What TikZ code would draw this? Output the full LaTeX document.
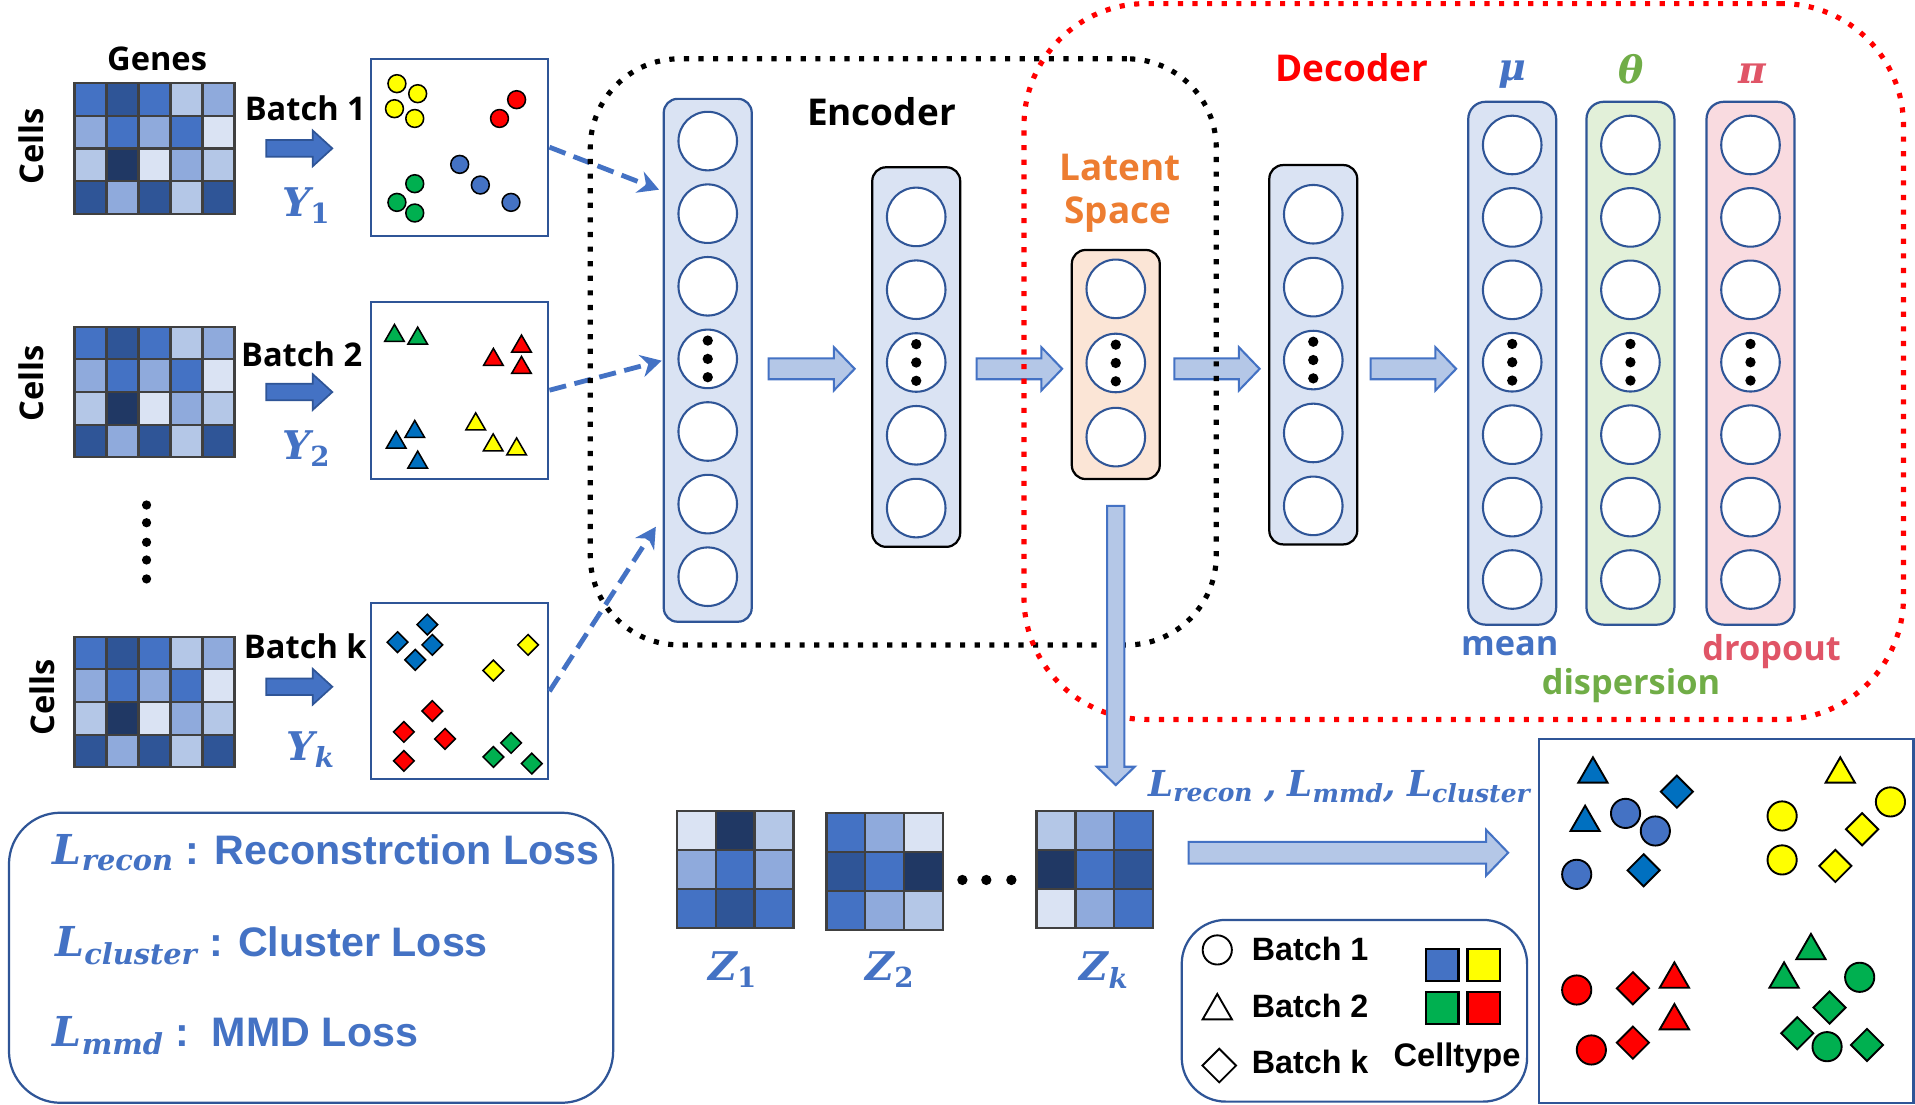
\RequirePackage{fix-cm}
\documentclass[tikz,border=0pt]{standalone}
\usepackage{fontspec}
\usepackage{amsmath}
\usepackage{xcolor}
\usetikzlibrary{arrows.meta,positioning,calc,shapes.geometric}
\newfontfamily\labelsans{Open Sans}
\newfontfamily\arialsans{Liberation Sans}
\newfontfamily\greekserif{DejaVu Serif}
\newcommand{\bfit}[1]{\text{\greekserif\bfseries\itshape #1}}
\newcommand{\bfup}[1]{\text{\greekserif\bfseries #1}}
\definecolor{Shade1}{HTML}{DAE3F3}
\definecolor{Shade2}{HTML}{B4C7E7}
\definecolor{Shade3}{HTML}{8FAADC}
\definecolor{Shade4}{HTML}{4472C4}
\definecolor{Shade5}{HTML}{2F5597}
\definecolor{Shade6}{HTML}{203864}
\definecolor{UBlue}{HTML}{2F5597}
\definecolor{TBlue}{HTML}{4472C4}
\definecolor{GridGray}{HTML}{404040}
\definecolor{LatentFill}{HTML}{FBE5D6}
\definecolor{LatentText}{HTML}{ED7D31}
\definecolor{ThetaFill}{HTML}{E2F0D9}
\definecolor{ThetaText}{HTML}{70AD47}
\definecolor{PiFill}{HTML}{F9DBE0}
\definecolor{PiText}{HTML}{E05567}
\definecolor{CtBlue}{HTML}{0070C0}
\definecolor{CtYellow}{HTML}{FFFF00}
\definecolor{CtRed}{HTML}{FF0000}
\definecolor{CtGreen}{HTML}{00B050}
\tikzset{
 lbl/.style={font=\labelsans\bfseries\fontsize{19}{22}\selectfont, inner sep=0},
 headtxt/.style={font=\labelsans\bfseries\fontsize{21.5}{25}\selectfont, inner sep=0},
 subtxt/.style={font=\labelsans\bfseries\fontsize{20}{24}\selectfont, inner sep=0},
 mathlbl/.style={font=\fontsize{23}{28}\selectfont, text=TBlue, inner sep=0},
 greeklbl/.style={font=\greekserif\bfseries\itshape\fontsize{22}{26}\selectfont, inner sep=0},
 losstxt/.style={font=\arialsans\bfseries\fontsize{24}{28}\selectfont, text=TBlue, inner sep=0},
 legtxt/.style={font=\arialsans\bfseries\fontsize{18.8}{22}\selectfont, inner sep=0},
 heatbox/.style={rectangle, inner sep=0, outer sep=0},
 heatcell/.style={draw=GridGray, line width=1.3pt},
 scatterbox/.style={rectangle, draw=UBlue, line width=1.3pt, minimum width=103.1pt, minimum height=103.1pt, inner sep=0},
 neuron/.style={circle, draw=UBlue, fill=white, line width=1.2pt, minimum size=34.1pt, inner sep=0},
 layerbox/.style={rectangle, rounded corners=8pt, line width=1.3pt, minimum width=51.2pt, inner sep=0},
 enccol/.style={layerbox, draw=UBlue, fill=Shade1},
 hidcol/.style={layerbox, draw=black, fill=Shade1},
 latcol/.style={layerbox, draw=black, fill=LatentFill},
 mucol/.style={layerbox, rounded corners=10pt, draw=UBlue, fill=Shade1},
 thetacol/.style={layerbox, rounded corners=10pt, draw=UBlue, fill=ThetaFill},
 picol/.style={layerbox, rounded corners=10pt, draw=UBlue, fill=PiFill},
 blkarrow/.style={fill=Shade2, draw=TBlue, line width=1.2pt},
 batcharrow/.style={fill=Shade4, draw=UBlue, line width=1pt},
 inarrow/.style={draw=TBlue, line width=2.8pt, dash pattern=on 10pt off 5pt, -{Stealth[length=12pt,width=13pt]}},
 dotbox/.style={rectangle, line width=3pt, dash pattern=on 3pt off 5.5pt, inner sep=0},
 cdot/.style={circle, draw=black, line width=0.9pt, minimum size=10.4pt, inner sep=0},
 ctri/.style={regular polygon, regular polygon sides=3, draw=black, line width=0.9pt, minimum size=13.2pt, inner sep=0, yshift=-1.6pt},
 cdia/.style={diamond, draw=black, line width=0.9pt, minimum size=12.4pt, inner sep=0},
 bigdot/.style={circle, draw=black, line width=1.1pt, minimum size=17pt, inner sep=0},
 bigtri/.style={regular polygon, regular polygon sides=3, draw=black, line width=1.1pt, minimum size=19.7pt, inner sep=0, yshift=-2.5pt},
 bigdia/.style={diamond, draw=black, line width=1.1pt, minimum size=19.2pt, inner sep=0},
 swatch/.style={rectangle, draw=black, line width=1.3pt, minimum size=18.8pt, inner sep=0}
}
\newcommand{\heatgrid}[5]{%
  \foreach \heatcol [count=\ci from 0] in {#5}{%
    \pgfmathtruncatemacro{\cc}{mod(\ci,#2)}%
    \pgfmathtruncatemacro{\rr}{floor(\ci/#2)}%
    \draw[heatcell, fill=\heatcol] ($(#1.north west)+(\cc*#3,\rr*#4)$) rectangle +(#3,#4);}}
\newcommand{\nnlayer}[8]{%
  \node[#2, minimum height={(#5-#4)*0.7113pt}] (#1) at (#3,{(#4+#5)/2}) {};
  \foreach \k in {1,...,#8}
    \node[neuron] (#1n\k) at (#3,{#6+#7*(\k-1)}) {};
  \pgfmathtruncatemacro{\midn}{(#8+1)/2}
  \foreach \d in {-15,0,15}
    \fill ($(#1n\midn)+(0,\d)$) circle (3pt);}
\newcommand{\blockarrow}[6]{%
  \draw[#1] ($(#2)+(0,-#4)$) -- ($(#3)+(-#6,-#4)$) -- ($(#3)+(-#6,-#5)$) -- (#3)
    -- ($(#3)+(-#6,#5)$) -- ($(#3)+(-#6,#4)$) -- ($(#2)+(0,#4)$) -- cycle;}
\newcommand{\downblock}[6]{%
  \draw[#1] ($(#2)+(-#4,0)$) -- ($(#3)+(-#4,-#6)$) -- ($(#3)+(-#5,-#6)$) -- (#3)
    -- ($(#3)+(#5,-#6)$) -- ($(#3)+(#4,-#6)$) -- ($(#2)+(#4,0)$) -- cycle;}

\begin{document}
\begin{tikzpicture}[x=0.025cm, y=-0.025cm]
\useasboundingbox (0,0) rectangle (1568,904);
\fill[white] (0,0) rectangle (1568,904);

% input batches
\node[lbl, anchor=base] (genes) at (128.6,57.9) {Genes};
\foreach \m/\y in {1/121.5, 2/321, 3/574.8}{
  \node[heatbox, minimum width=93.2pt, minimum height=76.1pt] (mat\m) at (126.5,\y) {};
  \heatgrid{mat\m}{5}{26.2}{26.75}{Shade4,Shade5,Shade4,Shade2,Shade3, Shade3,Shade4,Shade3,Shade4,Shade1, Shade2,Shade6,Shade1,Shade3,Shade2, Shade5,Shade3,Shade5,Shade2,Shade5}
}
\node[lbl, rotate=90] (cells1) at (26,120) {Cells};
\node[lbl, rotate=90] (cells2) at (26,314) {Cells};
\node[lbl, rotate=90] (cells3) at (35,571) {Cells};
\foreach \y in {413.5,428,444,458.5,474}
  \fill (120,\y) circle (2.7pt);

\node[lbl, anchor=base] (bt1) at (250,98.3) {Batch 1};
\node[lbl, anchor=base] (bt2) at (247,299.7) {Batch 2};
\node[lbl, anchor=base] (btk) at (250,539) {Batch k};
\node[mathlbl, anchor=base] (y1) at (250.8,177.4) {$\bfit{Y}_{\bfup{1}}$};
\node[mathlbl, anchor=base] (y2) at (250.8,376.6) {$\bfit{Y}_{\bfup{2}}$};
\node[mathlbl, anchor=base] (yk) at (254.4,622.3) {$\bfit{Y}_{\bfit{k}}$};

\node[scatterbox] (box1) at (376.5,120.5) {};
\node[scatterbox] (box2) at (376.5,319.5) {};
\node[scatterbox, minimum height=102.4pt] (box3) at (376.5,566) {};

\coordinate (s1) at ($(mat1.east)+(26,0)$);
\coordinate (t1) at ($(box1.west |- s1)+(-31,0)$);
\coordinate (s2) at ($(mat2.east)+(26,0)$);
\coordinate (t2) at ($(box2.west |- s2)+(-31,0)$);
\coordinate (s3) at ($(mat3.east)+(26,-12.5)$);
\coordinate (t3) at ($(box3.west |- s3)+(-31,0)$);
\foreach \s/\e in {s1/t1, s2/t2, s3/t3}
  \blockarrow{batcharrow}{\s}{\e}{6.8}{14.6}{16};

% batch 1: circles
\foreach \x/\y [count=\n] in {325/68.5,342/76.7,323/89,339.6/97}
  \node[cdot, fill=CtYellow] (b1y\n) at (\x,\y) {};
\foreach \x/\y [count=\n] in {423/81.6,409/97}
  \node[cdot, fill=CtRed] (b1r\n) at (\x,\y) {};
\foreach \x/\y [count=\n] in {376.4/134.6,393.3/151.5,418.4/165.7}
  \node[cdot, fill=TBlue] (b1b\n) at (\x,\y) {};
\foreach \x/\y [count=\n] in {339.6/150.4,325/165.7,339.6/174.4}
  \node[cdot, fill=CtGreen] (b1g\n) at (\x,\y) {};
% batch 2: triangles
\foreach \x/\y [count=\n] in {323/272.7,342/274.9}
  \node[ctri, fill=CtGreen] (b2g\n) at (\x,\y) {};
\foreach \x/\y [count=\n] in {404/292.3,427/281.4,427/298.9}
  \node[ctri, fill=CtRed] (b2r\n) at (\x,\y) {};
\foreach \x/\y [count=\n] in {324.4/360,339.6/351.3,342/376.4}
  \node[ctri, fill=CtBlue] (b2b\n) at (\x,\y) {};
\foreach \x/\y [count=\n] in {389.5/345.1,403.8/362.3,423/365.6}
  \node[ctri, fill=CtYellow] (b2y\n) at (\x,\y) {};
% batch k: diamonds
\foreach \x/\y [count=\n] in {349.9/511.4,325.5/525.8,354/528,340/540.3}
  \node[cdia, fill=CtBlue] (bkb\n) at (\x,\y) {};
\foreach \x/\y [count=\n] in {432.4/528,404/549}
  \node[cdia, fill=CtYellow] (bky\n) at (\x,\y) {};
\foreach \x/\y [count=\n] in {354/582.2,330.7/599.3,364.4/605,330.7/623}
  \node[cdia, fill=CtRed] (bkr\n) at (\x,\y) {};
\foreach \x/\y [count=\n] in {418.5/608.3,404/619.8,435.4/625.2}
  \node[cdia, fill=CtGreen] (bkg\n) at (\x,\y) {};

% network
\nnlayer{enc1}{enccol}{579.5}{81}{509}{115.5}{59.45}{7}
\nnlayer{enc2}{hidcol}{750.2}{137}{447.7}{177.6}{59.6}{5}
\nnlayer{lat}{latcol}{913.6}{204.7}{392.2}{236.5}{60.7}{3}
\nnlayer{dec}{hidcol}{1075.3}{135.2}{445.7}{175.4}{59.7}{5}
\nnlayer{mu}{mucol}{1238.2}{83.4}{511.4}{118.7}{59.3}{7}
\nnlayer{theta}{thetacol}{1335}{83.4}{511.4}{118.7}{59.3}{7}
\nnlayer{pi}{picol}{1433.3}{83.4}{511.4}{118.7}{59.3}{7}

\coordinate (in1) at (539.6,155.3);
\coordinate (in2) at (541.8,295.3);
\coordinate (in3) at (537,431.3);
\draw[inarrow] (box1.east) -- (in1);
\draw[inarrow] (box2.east) -- (in2);
\draw[inarrow] (box3.east) -- (in3);

\coordinate (mid) at (0,302);
\coordinate (a1s) at ($(enc1.east |- mid)+(13,0)$);
\coordinate (a1e) at ($(enc2.west |- mid)+(-13.5,0)$);
\coordinate (a2s) at ($(enc2.east |- mid)+(12.6,0)$);
\coordinate (a2e) at ($(lat.west |- mid)+(-7,0)$);
\coordinate (a3s) at ($(lat.east |- mid)+(11,0)$);
\coordinate (a3e) at ($(dec.west |- mid)+(-7,0)$);
\coordinate (a4s) at ($(dec.east |- mid)+(10,0)$);
\coordinate (a4e) at ($(mu.west |- mid)+(-9,0)$);
\foreach \s/\e in {a1s/a1e, a2s/a2e, a3s/a3e, a4s/a4e}
  \blockarrow{blkarrow}{\s}{\e}{8.5}{17.7}{17};

\node[dotbox, draw=black, rounded corners=52pt, minimum width=364.5pt, minimum height=341.3pt] (encbox) at (739.6,288.1) {};
\node[dotbox, draw=red, rounded corners=71pt, minimum width=512.1pt, minimum height=416.8pt] (decbox) at (1198.5,296) {};

\node[headtxt, anchor=base] (enctxt) at (721.7,103) {Encoder};
\node[headtxt, anchor=base, text=red] (dectxt) at (1107,66.8) {Decoder};
\node[headtxt, anchor=base, text=LatentText] (lattxt1) at (917.2,148) {Latent};
\node[headtxt, anchor=base, text=LatentText] (lattxt2) at (915.4,182.8) {Space};
\node[greeklbl, anchor=base, text=TBlue] (mutxt) at (1238.6,66) {μ};
\node[greeklbl, anchor=base, text=ThetaText] (thetatxt) at (1335.4,68) {θ};
\node[greeklbl, anchor=base, text=PiText] (pitxt) at (1434.6,68) {π};
\node[subtxt, anchor=base, text=TBlue] (meantxt) at (1236.2,537) {mean};
\node[subtxt, anchor=base, text=ThetaText] (disptxt) at (1335.4,569) {dispersion};
\node[subtxt, anchor=base, text=PiText] (droptxt) at (1450.6,540.7) {dropout};

% latent codes
\node[heatbox, minimum width=68pt, minimum height=68.1pt] (Z1) at (601.9,712.2) {};
\node[heatbox, minimum width=68pt, minimum height=68.1pt] (Z2) at (724.5,713.5) {};
\node[heatbox, minimum width=68pt, minimum height=68.1pt] (Zk) at (896.5,712.2) {};
\heatgrid{Z1}{3}{31.87}{31.93}{Shade1,Shade6,Shade2, Shade3,Shade4,Shade3, Shade4,Shade5,Shade4}
\heatgrid{Z2}{3}{31.87}{31.93}{Shade4,Shade3,Shade1, Shade5,Shade4,Shade6, Shade4,Shade3,Shade2}
\heatgrid{Zk}{3}{31.87}{31.93}{Shade2,Shade3,Shade4, Shade6,Shade4,Shade5, Shade1,Shade3,Shade4}
\foreach \x in {788,807.6,828.1}
  \fill (\x,720.5) circle (3pt);
\node[mathlbl, anchor=base] (z1txt) at (600,803) {$\bfit{Z}_{\bfup{1}}$};
\node[mathlbl, anchor=base] (z2txt) at (728.7,803) {$\bfit{Z}_{\bfup{2}}$};
\node[mathlbl, anchor=base] (zktxt) at (904.1,803) {$\bfit{Z}_{\bfit{k}}$};

\coordinate (zs) at ($(lat.south)+(0,21)$);
\coordinate (ze) at ($(zs |- Zk.north)+(0,-21.5)$);
\downblock{blkarrow}{zs}{ze}{7.1}{15.5}{15}
\node[mathlbl, anchor=base west, font=\fontsize{20.8}{25}\selectfont] (losses) at (940,652) {$\bfit{L}_{\bfit{recon}}$ \bfit{,} $\bfit{L}_{\bfit{mmd}}$\bfit{,} $\bfit{L}_{\bfit{cluster}}$};

% result
\node[rectangle, draw=UBlue, line width=1.3pt, minimum width=217.9pt, minimum height=212pt, inner sep=0] (res) at (1413.5,754) {};
\coordinate (rs) at ($(Zk.east)+(29,-14)$);
\coordinate (re) at ($(res.west |- rs)+(-24.5,0)$);
\blockarrow{blkarrow}{rs}{re}{8.9}{18.7}{18}

\foreach \x/\y [count=\n] in {1304.3/630.4,1297.9/670}
  \node[bigtri, fill=CtBlue] (rbt\n) at (\x,\y) {};
\foreach \x/\y [count=\n] in {1331/666,1355.4/680.4,1291/715.9}
  \node[bigdot, fill=TBlue] (rbc\n) at (\x,\y) {};
\foreach \x/\y [count=\n] in {1373/648.2,1345.8/712.6}
  \node[bigdia, fill=CtBlue] (rbd\n) at (\x,\y) {};
\node[bigtri, fill=CtYellow] (ryt1) at (1506.8,630.4) {};
\foreach \x/\y [count=\n] in {1459.2/668.1,1547.9/656.6,1459.2/704.1}
  \node[bigdot, fill=CtYellow] (ryc\n) at (\x,\y) {};
\foreach \x/\y [count=\n] in {1524.7/679,1502.8/709}
  \node[bigdia, fill=CtYellow] (ryd\n) at (\x,\y) {};
\foreach \x/\y [count=\n] in {1291/810.6,1303/859.7}
  \node[bigdot, fill=CtRed] (rrc\n) at (\x,\y) {};
\foreach \x/\y [count=\n] in {1337/809.2,1337/853.7}
  \node[bigdia, fill=CtRed] (rrd\n) at (\x,\y) {};
\foreach \x/\y [count=\n] in {1371/798.3,1371/832.4}
  \node[bigtri, fill=CtRed] (rrt\n) at (\x,\y) {};
\foreach \x/\y [count=\n] in {1482.8/775,1460.8/798.3}
  \node[bigtri, fill=CtGreen] (rgt\n) at (\x,\y) {};
\foreach \x/\y [count=\n] in {1522.7/800.2,1496/857}
  \node[bigdot, fill=CtGreen] (rgc\n) at (\x,\y) {};
\foreach \x/\y [count=\n] in {1498/825,1471.6/846,1528.7/855.6}
  \node[bigdia, fill=CtGreen] (rgd\n) at (\x,\y) {};

% legend
\node[rectangle, draw=UBlue, line width=1.3pt, rounded corners=25.6pt, minimum width=201.1pt, minimum height=105.8pt, inner sep=0] (legend) at (1109,827.6) {};
\node[bigdot, fill=white] (lg1) at (996.7,777.8) {};
\node[bigtri, fill=white] (lg2) at (996.7,824.2) {};
\node[bigdia, fill=white, minimum size=20pt] (lg3) at (998.3,872.5) {};
\node[legtxt, anchor=base west] (lgt1) at (1024.7,786.5) {Batch 1};
\node[legtxt, anchor=base west] (lgt2) at (1024.7,833.2) {Batch 2};
\node[legtxt, anchor=base west] (lgt3) at (1024.7,878.8) {Batch k};
\node[swatch, fill=TBlue] (sw1) at (1180.9,790) {};
\node[swatch, fill=CtYellow] (sw2) at (1214.8,790) {};
\node[swatch, fill=CtGreen] (sw3) at (1180.9,825.2) {};
\node[swatch, fill=CtRed] (sw4) at (1214.8,825.2) {};
\node[legtxt, anchor=base, font=\arialsans\bfseries\fontsize{19}{22}\selectfont] (ctype) at (1193,873.3) {Celltype};

% losses
\node[rectangle, draw=UBlue, line width=1.3pt, rounded corners=30pt, minimum width=351.8pt, minimum height=168.9pt, inner sep=0] (lossbox) at (254.7,784.2) {};
\node[losstxt, anchor=base west] (lrec) at (43,708) {$\bfit{L}_{\bfit{recon}}$ : Reconstrction Loss};
\node[losstxt, anchor=base west] (lclu) at (45,783) {$\bfit{L}_{\bfit{cluster}}$ : Cluster Loss};
\node[losstxt, anchor=base west] (lmmd) at (43,857) {$\bfit{L}_{\bfit{mmd}}$ :\ \ MMD Loss};
\end{tikzpicture}
\end{document}
